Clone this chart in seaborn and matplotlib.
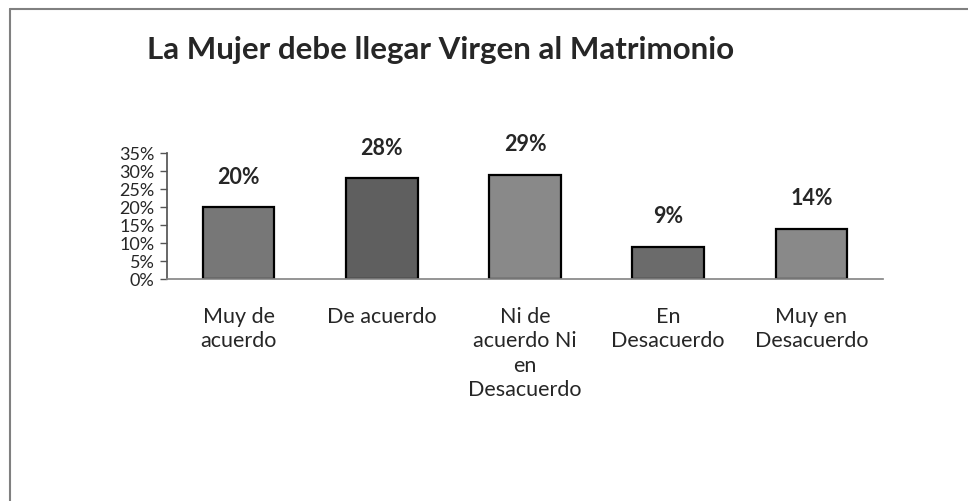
import pandas as pd
import matplotlib.pyplot as plt
import seaborn as sns
from matplotlib.lines import Line2D

# -----------------------------
# Data
# -----------------------------
categorias = ["Muy de\nacuerdo", "De acuerdo", "Ni de\nacuerdo Ni\nen\nDesacuerdo",
              "En\nDesacuerdo", "Muy en\nDesacuerdo"]
porcentajes = [0.20, 0.28, 0.29, 0.09, 0.14]
etiquetas = ["20%", "28%", "29%", "9%", "14%"]
colores = ["#777777", "#5f5f5f", "#898989", "#6b6b6b", "#898989"]
y_ticks = [0, 0.05, 0.10, 0.15, 0.20, 0.25, 0.30, 0.35]
y_tick_labels = ["0%", "5%", "10%", "15%", "20%", "25%", "30%", "35%"]

titulo = "La Mujer debe llegar Virgen al Matrimonio"

sns.set_theme(style="white")
plt.rcParams["font.family"] = ["Lato", "DejaVu Sans"]

df = pd.DataFrame({"categoria": categorias, "valor": porcentajes})

fig = plt.figure(figsize=(9.68, 5.01), dpi=100)
ax = fig.add_axes([167 / 968, 1 - 279 / 501, (883 - 167) / 968, (279 - 153) / 501])

sns.barplot(data=df, x="categoria", y="valor", hue="categoria", palette=colores,
            width=0.5, edgecolor="black", linewidth=1.6, legend=False, ax=ax)

ax.set_ylim(0, 0.35)
ax.set_xlim(-0.5, len(categorias) - 0.5)
ax.set_yticks(y_ticks)
ax.set_yticklabels(y_tick_labels, fontsize=13)
ax.set_xlabel("")
ax.set_ylabel("")

# etiquetas de categorias
ax.set_xticks(range(len(categorias)))
ax.set_xticklabels(categorias, fontsize=15.5, linespacing=1.28, va="top")
ax.tick_params(axis="x", which="major", length=0, pad=20)
ax.set_xticks([i - 0.5 for i in range(len(categorias) + 1)], minor=True)
ax.tick_params(axis="x", which="minor", length=5, width=1, color="#555555", direction="out")
ax.tick_params(axis="y", length=5, width=1, color="#555555", direction="out", pad=4, left=True)

for side in ["top", "right"]:
    ax.spines[side].set_visible(False)
ax.spines["left"].set_color("#555555")
ax.spines["bottom"].set_color("#888888")

# etiquetas de datos
for bar, texto in zip(ax.patches, etiquetas):
    ax.annotate(texto, (bar.get_x() + bar.get_width() / 2, bar.get_height()),
                xytext=(0, 14), textcoords="offset points", ha="center", va="bottom",
                fontsize=15.5, fontweight="bold")

fig.text(441 / 968, 1 - 50 / 501, titulo, ha="center", va="center",
         fontsize=22.5, fontweight="bold")

# borde del area del grafico
fig.add_artist(Line2D([9.5 / 968, 9.5 / 968], [0, 1 - 9 / 501], transform=fig.transFigure,
                      color="#808080", linewidth=1.5))
fig.add_artist(Line2D([9.5 / 968, 1], [1 - 9 / 501, 1 - 9 / 501], transform=fig.transFigure,
                      color="#808080", linewidth=1.5))

fig.savefig("out.png", dpi=100)
